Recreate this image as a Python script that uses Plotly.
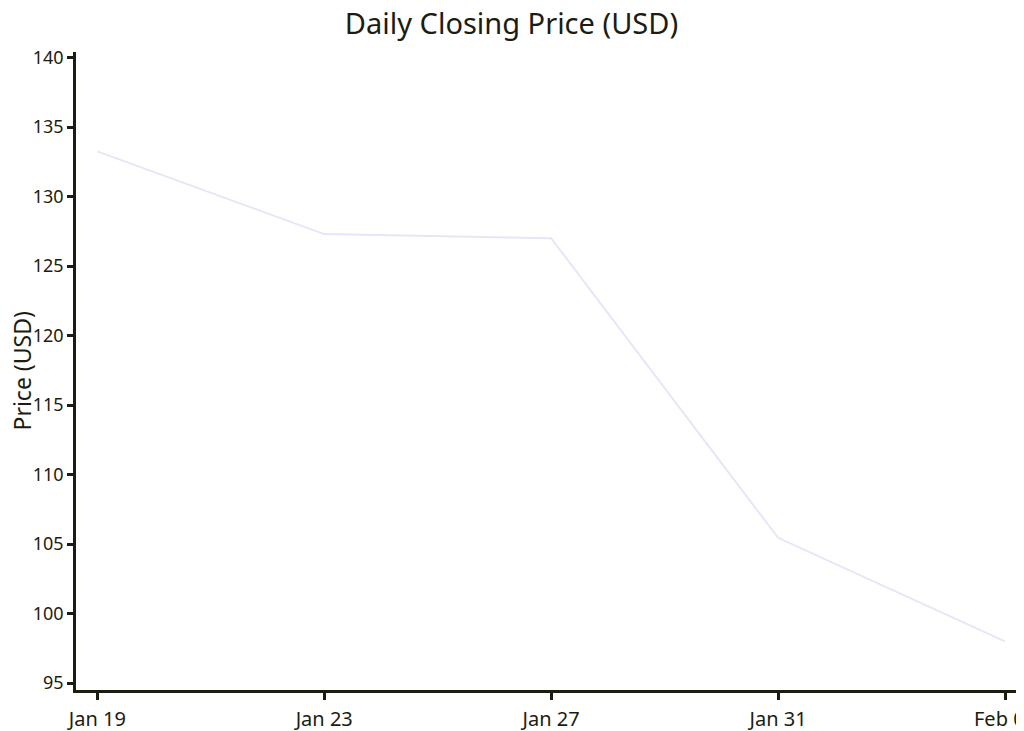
import plotly.graph_objects as go
import pandas as pd

# Data
dates = ["2024-01-19", "2024-01-23", "2024-01-27", "2024-01-31", "2024-02-04"]
close_prices = [133.25, 127.3, 127.0, 105.45, 98.0]
y_ticks = [95, 100, 105, 110, 115, 120, 125, 130, 135, 140]

df = pd.DataFrame({"Date": pd.to_datetime(dates), "Close": close_prices})

FONT = "Noto Sans"
INK = "#1c1c10"

fig = go.Figure()

fig.add_trace(
    go.Scatter(
        x=df["Date"],
        y=df["Close"],
        mode="lines",
        line=dict(color="#e6e6fa", width=2),
        name="Close",
    )
)

fig.update_layout(
    width=1024,
    height=731,
    plot_bgcolor="white",
    paper_bgcolor="white",
    showlegend=False,
    font=dict(family=FONT, color=INK, size=18),
    margin=dict(l=68, r=0, t=44, b=49, autoexpand=False),
    title=dict(
        text="Daily Closing Price (USD)",
        x=0.4917,
        xanchor="center",
        xref="container",
        y=0.978,
        yanchor="middle",
        yref="container",
        font=dict(size=29, family=FONT, color=INK),
    ),
    xaxis=dict(
        range=["2024-01-18 15:00", "2024-02-04 11:25"],
        tickformat="%b %d",
        dtick=4 * 86400000,
        tick0="2024-01-19",
        showline=True,
        linecolor=INK,
        linewidth=2.5,
        ticks="outside",
        ticklen=7,
        tickwidth=2.5,
        tickcolor=INK,
        showgrid=False,
        zeroline=False,
        automargin=False,
        ticklabeloverflow="allow",
        ticklabelstandoff=2,
        tickfont=dict(size=20),
    ),
    yaxis=dict(
        range=[94.5, 140.4],
        tickvals=y_ticks,
        showline=True,
        linecolor=INK,
        linewidth=2.5,
        ticks="outside",
        ticklen=6,
        tickwidth=2.5,
        tickcolor=INK,
        showgrid=False,
        zeroline=False,
        automargin=False,
        tickfont=dict(size=18),
    ),
    annotations=[
        dict(
            text="Price (USD)",
            textangle=-90,
            xref="paper",
            yref="paper",
            x=-0.057,
            y=0.5,
            xanchor="center",
            yanchor="middle",
            showarrow=False,
            font=dict(size=23, family=FONT, color=INK),
        )
    ],
)

fig.write_html("out.html")
